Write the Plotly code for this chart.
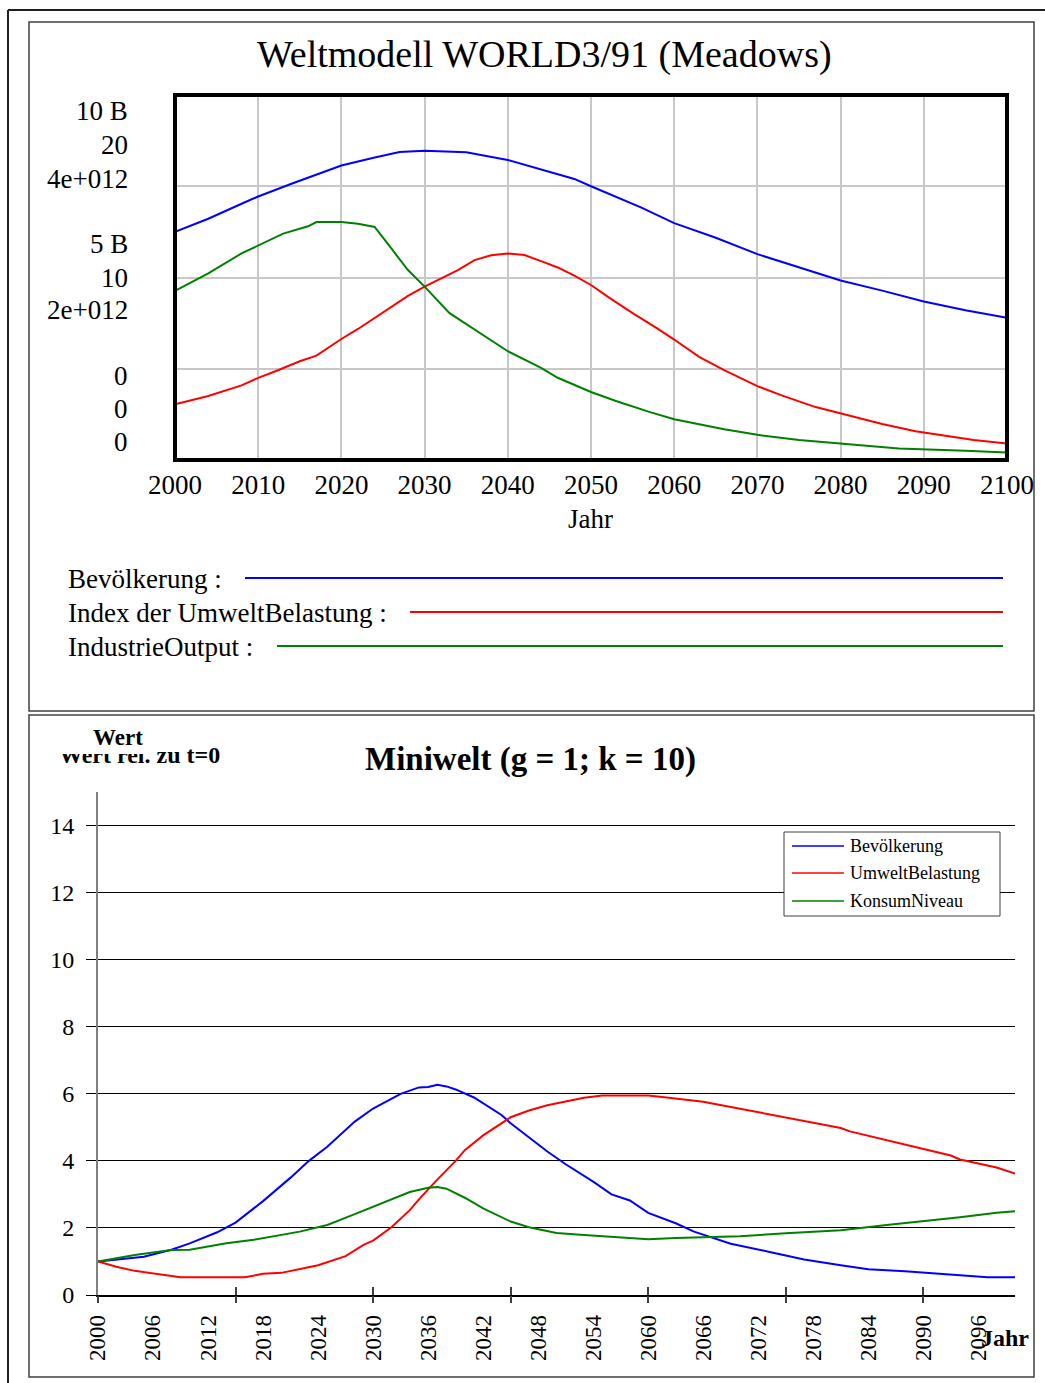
import plotly.graph_objects as go

W, H = 1045, 1383


def px(x):
    return x / W


def py(y):
    return 1 - y / H


SERIF = "Liberation Serif"
BLUE, RED, GREEN = "#0000ff", "#ff0000", "#008000"

# ---------------- WORLD3/91 scenario ----------------
pop_years = [2000, 2004, 2008, 2010, 2014, 2018, 2020, 2024, 2027, 2030, 2035, 2040,
             2044, 2048, 2050, 2053, 2056, 2060, 2065, 2070, 2075, 2080, 2085, 2090,
             2095, 2100]
population = [6.25e9, 6.61e9, 7.02e9, 7.22e9, 7.57e9, 7.91e9, 8.07e9, 8.29e9, 8.44e9,
              8.47e9, 8.43e9, 8.22e9, 7.97e9, 7.70e9, 7.50e9, 7.22e9, 6.92e9, 6.49e9,
              6.09e9, 5.64e9, 5.29e9, 4.92e9, 4.64e9, 4.34e9, 4.10e9, 3.90e9]
poll_years = [2000, 2004, 2008, 2010, 2012, 2015, 2017, 2020, 2022, 2024, 2026, 2028,
              2030, 2032, 2034, 2036, 2038, 2040, 2042, 2044, 2046, 2048, 2050, 2052,
              2055, 2058, 2060, 2063, 2066, 2070, 2073, 2077, 2081, 2085, 2089, 2093,
              2096, 2100]
pollution_index = [3.05, 3.51, 4.09, 4.50, 4.85, 5.41, 5.72, 6.63, 7.18, 7.78, 8.41,
                   8.99, 9.50, 9.96, 10.41, 10.95, 11.22, 11.32, 11.23, 10.90, 10.55,
                   10.10, 9.59, 8.95, 8.05, 7.20, 6.60, 5.65, 4.93, 4.05, 3.53, 2.90,
                   2.42, 1.97, 1.57, 1.30, 1.10, 0.91]
output_years = [2000, 2004, 2008, 2010, 2013, 2016, 2017, 2020, 2022, 2024, 2025, 2026,
                2028, 2030, 2033, 2037, 2040, 2044, 2046, 2050, 2053, 2057, 2060, 2066,
                2070, 2075, 2080, 2087, 2095, 2100]
industrial_output = [1.853e12, 2.045e12, 2.264e12, 2.354e12, 2.481e12, 2.561e12,
                     2.608e12, 2.608e12, 2.590e12, 2.554e12, 2.430e12, 2.318e12,
                     2.082e12, 1.900e12, 1.609e12, 1.373e12, 1.192e12, 1.010e12,
                     0.901e12, 0.745e12, 0.647e12, 0.527e12, 0.447e12, 0.338e12,
                     0.276e12, 0.218e12, 0.178e12, 0.127e12, 0.102e12, 0.083e12]
w3_year_ticks = list(range(2000, 2101, 10))

# three value scales sharing one frame
w3_axis_labels = [
    ["10 B", "20", "4e+012"],
    ["5 B", "10", "2e+012"],
    ["0", "0", "0"],
]
w3_legend = ["Bevölkerung :", "Index der UmweltBelastung :", "IndustrieOutput :"]

# ---------------- Miniwelt (g = 1; k = 10) ----------------
mw_pop_years = [2000, 2003, 2005, 2008, 2010, 2013, 2015, 2018, 2021, 2023, 2025,
                2028, 2030, 2033, 2035, 2036, 2037, 2038, 2039, 2041, 2042, 2044,
                2045, 2047, 2049, 2051, 2054, 2056, 2058, 2060, 2063, 2065, 2069,
                2073, 2077, 2081, 2084, 2088, 2093, 2097, 2100]
mw_population = [1.00, 1.09, 1.14, 1.35, 1.54, 1.87, 2.16, 2.80, 3.50, 4.00, 4.42,
                 5.17, 5.56, 6.00, 6.19, 6.20, 6.27, 6.22, 6.13, 5.89, 5.71, 5.37,
                 5.12, 4.71, 4.28, 3.90, 3.38, 3.00, 2.82, 2.45, 2.14, 1.89, 1.53,
                 1.30, 1.06, 0.89, 0.77, 0.71, 0.60, 0.53, 0.53]
mw_poll_years = [2000, 2002, 2004, 2007, 2009, 2016, 2018, 2020, 2024, 2027, 2029,
                 2030, 2032, 2034, 2035, 2037, 2039, 2040, 2042, 2045, 2047, 2049,
                 2053, 2055, 2060, 2062, 2066, 2068, 2073, 2081, 2082, 2088, 2089,
                 2093, 2094, 2098, 2100]
mw_pollution = [1.00, 0.84, 0.72, 0.60, 0.53, 0.53, 0.63, 0.66, 0.89, 1.16, 1.50,
                1.62, 2.02, 2.53, 2.85, 3.44, 4.00, 4.32, 4.76, 5.30, 5.50, 5.66,
                5.88, 5.95, 5.95, 5.89, 5.76, 5.66, 5.40, 4.98, 4.88, 4.50, 4.42,
                4.16, 4.04, 3.80, 3.62]
mw_cons_years = [2000, 2004, 2008, 2010, 2014, 2017, 2022, 2025, 2028, 2032, 2034,
                 2036, 2037, 2038, 2040, 2042, 2045, 2047, 2050, 2053, 2057, 2060,
                 2063, 2070, 2075, 2081, 2086, 2090, 2094, 2098, 2100]
mw_consumption = [1.00, 1.19, 1.34, 1.35, 1.54, 1.65, 1.89, 2.09, 2.41, 2.85, 3.07,
                  3.20, 3.22, 3.17, 2.90, 2.58, 2.19, 2.02, 1.85, 1.79, 1.71, 1.66,
                  1.70, 1.75, 1.84, 1.93, 2.09, 2.20, 2.32, 2.45, 2.50]
mw_label_ticks = list(range(2000, 2100, 6))
mw_major_ticks = list(range(2000, 2100, 15))
mw_value_ticks = list(range(0, 15, 2))
mw_legend = ["Bevölkerung", "UmweltBelastung", "KonsumNiveau"]

fig = go.Figure()

# WORLD3 curves, each on its own value scale
fig.add_trace(go.Scatter(x=pop_years, y=population, xaxis="x", yaxis="y",
                         mode="lines", line=dict(color=BLUE, width=2),
                         name="Bevölkerung", showlegend=False))
fig.add_trace(go.Scatter(x=poll_years, y=pollution_index, xaxis="x", yaxis="y2",
                         mode="lines", line=dict(color=RED, width=2),
                         name="Index der UmweltBelastung", showlegend=False))
fig.add_trace(go.Scatter(x=output_years, y=industrial_output, xaxis="x", yaxis="y3",
                         mode="lines", line=dict(color=GREEN, width=2),
                         name="IndustrieOutput", showlegend=False))

# Miniwelt curves (x2 carries labels, x3/x4 carry crossing tick marks)
fig.add_trace(go.Scatter(x=mw_pop_years, y=mw_population, xaxis="x2", yaxis="y4",
                         mode="lines", line=dict(color=BLUE, width=2),
                         name=mw_legend[0], showlegend=False))
fig.add_trace(go.Scatter(x=mw_poll_years, y=mw_pollution, xaxis="x3", yaxis="y4",
                         mode="lines", line=dict(color=RED, width=2),
                         name=mw_legend[1], showlegend=False))
fig.add_trace(go.Scatter(x=mw_cons_years, y=mw_consumption, xaxis="x4", yaxis="y4",
                         mode="lines", line=dict(color=GREEN, width=2),
                         name=mw_legend[2], showlegend=False))

# long value caption, drawn on a full-page pixel axis so that the white patch
# (a shape, layered above traces) can hide its upper half under "Wert"
fig.add_trace(go.Scatter(x=[59], y=[757], xaxis="x5", yaxis="y5", mode="text",
                         text=["<b>Wert rel. zu t=0</b>"], textposition="middle right",
                         textfont=dict(family=SERIF, size=24, color="black"),
                         cliponaxis=False, hoverinfo="skip", showlegend=False))

top_x = [px(175), px(1007)]
top_y = [py(460), py(95)]
bot_x = [px(98), px(1015)]
bot_y = [py(1295), py(792)]

fig.update_layout(
    width=W, height=H, autosize=False,
    margin=dict(l=0, r=0, t=0, b=0, pad=0, autoexpand=False),
    paper_bgcolor="white", plot_bgcolor="rgba(0,0,0,0)",
    showlegend=False,
    font=dict(family=SERIF, color="black"),
    xaxis=dict(domain=top_x, anchor="y", range=[2000, 2100], automargin=False,
               tickmode="array", tickvals=w3_year_ticks, ticks="",
               showgrid=True, gridcolor="#c8c8c8", gridwidth=1.5,
               showline=False, zeroline=False,
               tickfont=dict(family=SERIF, size=27, color="black"),
               ticklabelstandoff=6),
    yaxis=dict(domain=top_y, anchor="x", range=[0, 10e9], automargin=False,
               tickmode="array", tickvals=[2.5e9, 5e9, 7.5e9],
               showticklabels=False, ticks="",
               showgrid=True, gridcolor="#c8c8c8", gridwidth=1.5,
               showline=False, zeroline=False),
    yaxis2=dict(overlaying="y", anchor="x", range=[0, 20], visible=False,
                automargin=False),
    yaxis3=dict(overlaying="y", anchor="x", range=[0, 4e12], visible=False,
                automargin=False),
    xaxis2=dict(domain=bot_x, anchor="y4", range=[2000, 2100], automargin=False,
                tickmode="array", tickvals=mw_label_ticks, tickangle=-90,
                ticks="", showgrid=False, zeroline=False,
                showline=True, linecolor="black", linewidth=1.5,
                tickfont=dict(family=SERIF, size=23, color="black"),
                ticklabelstandoff=9),
    xaxis3=dict(overlaying="x2", anchor="y4", range=[2000, 2100], automargin=False,
                tickmode="array", tickvals=mw_major_ticks, ticks="outside",
                ticklen=7, tickwidth=1.5, tickcolor="#404040",
                showticklabels=False, showgrid=False, zeroline=False,
                showline=False),
    xaxis4=dict(overlaying="x2", anchor="y4", range=[2000, 2100], automargin=False,
                tickmode="array", tickvals=mw_major_ticks, ticks="inside",
                ticklen=8, tickwidth=1.5, tickcolor="#404040",
                showticklabels=False, showgrid=False, zeroline=False,
                showline=False),
    yaxis4=dict(domain=bot_y, anchor="x2", range=[0, 15], automargin=False,
                tickmode="array", tickvals=mw_value_ticks,
                ticks="outside", ticklen=10, tickcolor="black", tickwidth=1,
                showgrid=True, gridcolor="black", gridwidth=1,
                showline=True, linecolor="#808080", linewidth=2,
                zeroline=False,
                tickfont=dict(family=SERIF, size=24, color="black"),
                ticklabelstandoff=7),
    xaxis5=dict(domain=[0, 1], anchor="y5", range=[0, W], visible=False,
                fixedrange=True, automargin=False),
    yaxis5=dict(domain=[0, 1], anchor="x5", range=[H, 0], visible=False,
                fixedrange=True, automargin=False),
)

shapes = []
# page frame
shapes.append(dict(type="line", xref="paper", yref="paper",
                   x0=px(8), x1=px(1045), y0=py(10), y1=py(10),
                   line=dict(color="#202020", width=2)))
shapes.append(dict(type="line", xref="paper", yref="paper",
                   x0=px(8), x1=px(8), y0=py(10), y1=py(1383),
                   line=dict(color="#202020", width=2)))
# panel boxes
for y0, y1 in [(22, 711), (715, 1377)]:
    shapes.append(dict(type="rect", xref="paper", yref="paper",
                       x0=px(29), x1=px(1034), y0=py(y1), y1=py(y0),
                       line=dict(color="#404040", width=1.5), layer="below"))
# heavy frame around the WORLD3 plot area
shapes.append(dict(type="rect", xref="x domain", yref="y domain",
                   x0=0, x1=1, y0=0, y1=1,
                   line=dict(color="black", width=4)))
# white patch behind the "Wert" caption
shapes.append(dict(type="rect", xref="paper", yref="paper",
                   x0=px(55), x1=px(155), y0=py(754), y1=py(724),
                   fillcolor="white", line=dict(width=0)))


def label(text, x, y, size, xanchor="center", **extra):
    d = dict(text=text, xref="paper", yref="paper", x=px(x), y=py(y),
             xanchor=xanchor, yanchor="middle", showarrow=False,
             font=dict(family=SERIF, size=size, color="black"))
    d.update(extra)
    return d


annotations = []
annotations.append(label("Weltmodell WORLD3/91 (Meadows)", 544, 55, 38))
label_rows = [(111, 145, 179), (244, 278, 310), (376, 409, 442)]
for labels, rows in zip(w3_axis_labels, label_rows):
    for txt, yy in zip(labels, rows):
        annotations.append(label(txt, 130, yy, 27, xanchor="right"))
annotations.append(label("Jahr", 590, 519, 27))

# WORLD3 legend: label followed by a line reaching the right margin
legend_rows = [(579, 245, BLUE), (613, 410, RED), (647, 277, GREEN)]
for txt, (yy, xstart, col) in zip(w3_legend, legend_rows):
    annotations.append(label(txt, 66, yy, 27, xanchor="left"))
    shapes.append(dict(type="line", xref="paper", yref="paper",
                       x0=px(xstart), x1=px(1003), y0=py(yy - 1), y1=py(yy - 1),
                       line=dict(color=col, width=2)))

# Miniwelt title and captions
annotations.append(label("<b>Miniwelt (g = 1; k = 10)</b>", 530, 759, 33))
annotations.append(label("<b>Wert</b>", 118, 738, 23))
annotations.append(label("<b>Jahr</b>", 1005, 1338, 24))

# Miniwelt legend box
shapes.append(dict(type="rect", xref="paper", yref="paper",
                   x0=px(784), x1=px(1000), y0=py(916), y1=py(832),
                   fillcolor="white", line=dict(color="#404040", width=1)))
for txt, yy, col in zip(mw_legend, [846, 873, 901], [BLUE, RED, GREEN]):
    shapes.append(dict(type="line", xref="paper", yref="paper",
                       x0=px(792), x1=px(844), y0=py(yy), y1=py(yy),
                       line=dict(color=col, width=1.5)))
    annotations.append(label(txt, 848, yy, 18, xanchor="left"))

fig.update_layout(shapes=shapes, annotations=annotations)

fig.write_html("out.html")
